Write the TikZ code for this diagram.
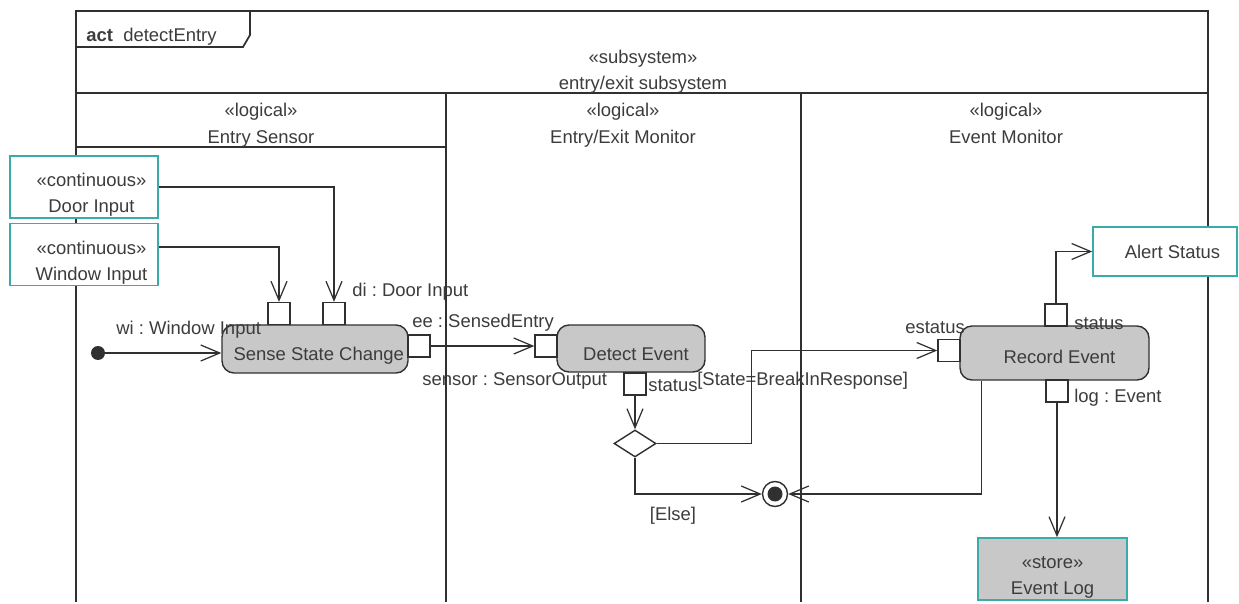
\documentclass[tikz,border=0pt]{standalone}
\usepackage{fontspec}
\setmainfont{Liberation Sans}
\usetikzlibrary{arrows.meta,shapes.geometric}
\definecolor{umlink}{HTML}{303030}
\definecolor{umltext}{HTML}{3C3C3C}
\definecolor{umlteal}{HTML}{3AABAB}
\definecolor{umlfill}{HTML}{C8C8C8}
\newcommand{\twolines}[2]{\begin{tabular}{@{}c@{}}#1\\#2\end{tabular}}

\begin{document}
\frenchspacing
\begin{tikzpicture}[
  x=0.02cm,
  y=-0.02cm,
  every node/.style={font=\fontsize{10.5}{14.7}\selectfont, text=umltext},
  caption/.style={text height=7.5pt, text depth=0pt},
  action/.style={draw=umlink, fill=umlfill, line width=0.8pt, rounded corners=0.24cm, inner sep=0},
  pin/.style={draw=umlink, fill=white, line width=0.8pt, minimum size=0.44cm, inner sep=0},
  objbox/.style={draw=umlteal, fill=white, line width=0.9pt, inner sep=0},
  lbl/.style={caption, inner sep=0, anchor=west},
  flow/.style={draw=umlink, line width=0.7pt, -{Straight Barb[length=0.38cm,width=0.32cm]}},
  frameline/.style={draw=umlink, line width=1pt}
]
  \useasboundingbox (0,0) rectangle (1239,604);

  % frame and swimlanes
  \draw[frameline] (76,602) -- (76,11) -- (1208,11) -- (1208,602);
  \draw[frameline] (76,47) -- (243,47) -- (250,35) -- (250,11);
  \node[lbl] (frametitle) at (86,35) {\textbf{act}\ \ detectEntry};
  \draw[frameline] (76,93) -- (1208,93);
  \draw[frameline] (446,93) -- (446,602);
  \draw[frameline] (801,93) -- (801,602);
  \draw[frameline] (76,147) -- (446,147);

  \node[caption] (substereo) at (643,57) {«subsystem»};
  \node[caption] (subname) at (643,83) {entry/exit subsystem};
  \node[caption] (lanea) at (261,110) {«logical»};
  \node[caption] (laneaname) at (261,137) {Entry Sensor};
  \node[caption] (laneb) at (623,110) {«logical»};
  \node[caption] (lanebname) at (623,137) {Entry/Exit Monitor};
  \node[caption] (lanec) at (1006,110) {«logical»};
  \node[caption] (lanecname) at (1006,137) {Event Monitor};

  % object nodes
  \node[objbox, minimum width=2.96cm, minimum height=1.24cm, text height=14.2pt, text depth=0pt]
    (door) at (84,187) {\hspace*{0.3cm}\twolines{«continuous»}{Door Input}};
  \node[objbox, minimum width=2.96cm, minimum height=1.24cm, text height=14.2pt, text depth=0pt]
    (win) at (84,254.5) {\hspace*{0.3cm}\twolines{«continuous»}{Window Input}};
  \node[objbox, caption, minimum width=2.88cm, minimum height=0.98cm] (alert) at (1165,251.5)
    {\hspace*{0.3cm}Alert Status};
  \node[objbox, fill=umlfill, minimum width=2.98cm, minimum height=1.24cm, text height=14.2pt,
    text depth=0pt] (evlog) at (1052.5,569) {\twolines{«store»}{Event Log}};

  % actions
  \node[action, minimum width=3.72cm, minimum height=0.96cm, text height=13.2pt, text depth=0pt]
    (ssc) at (315,349) {\hspace*{0.15cm}Sense State Change};
  \node[action, minimum width=2.96cm, minimum height=0.94cm, text height=13.7pt, text depth=0pt]
    (detect) at (631,348.5) {\hspace*{0.2cm}Detect Event};
  \node[action, minimum width=3.78cm, minimum height=1.08cm, text height=12pt, text depth=0pt]
    (record) at (1054.5,353) {\hspace*{0.2cm}Record Event};

  % pins
  \node[pin] (pwi) at (279,313.5) {};
  \node[pin] (pdi) at (334,313.5) {};
  \node[pin] (pout) at (419,346) {};
  \node[pin] (pee) at (546,346) {};
  \node[pin] (pstat) at (635,384) {};
  \node[pin] (pest) at (949,350.5) {};
  \node[pin] (pst) at (1056,315) {};
  \node[pin] (plog) at (1057,391) {};

  % control nodes
  \node[circle, fill=umlink, minimum size=0.28cm, inner sep=0] (start) at (98,353) {};
  \node[diamond, draw=umlink, fill=white, line width=0.8pt, minimum width=0.84cm,
    minimum height=0.54cm, inner sep=0] (choice) at (635,443.5) {};
  \node[circle, draw=umlink, fill=white, line width=0.8pt, minimum size=0.5cm, inner sep=0,
    path picture={\fill[umlink] (path picture bounding box.center) circle (0.15cm);}]
    (finish) at (775,494) {};

  % pin and guard labels
  \node[lbl] (wilbl) at (116,328) {wi : Window Input};
  \node[lbl] (dilbl) at (352,290) {di : Door Input};
  \node[lbl] (eelbl) at (412,321) {ee : SensedEntry};
  \node[lbl] (sensorlbl) at (422,379) {sensor : SensorOutput};
  \node[lbl] (statlbl) at (648,385) {status};
  \node[lbl] (breaklbl) at (697,379) {[State=BreakInResponse]};
  \node[caption] (elselbl) at (673,514) {[Else]};
  \node[lbl] (estlbl) at (905,327) {estatus};
  \node[lbl] (stlbl) at (1074,323) {status};
  \node[lbl] (loglbl) at (1074,396) {log : Event};

  % flows
  \draw[flow] (door.east) -| (pdi.north);
  \draw[flow] ([yshift=0.15cm]win.east) -| (pwi.north);
  \draw[flow] (start) -- (start -| ssc.west);
  \draw[flow] (pout.east) -- (pee.west);
  \draw[flow] (pstat.south) -- (choice.north);
  \draw[flow] (choice.east) -- ++(95,0) |- (pest.west);
  \draw[flow] (choice.south) |- (finish.west);
  \draw[flow] ([xshift=0.44cm]record.south west) |- (finish.east);
  \draw[flow] (pst.north) |- (alert.west);
  \draw[flow] (plog.south) -- (plog.south |- evlog.north);
\end{tikzpicture}
\end{document}
